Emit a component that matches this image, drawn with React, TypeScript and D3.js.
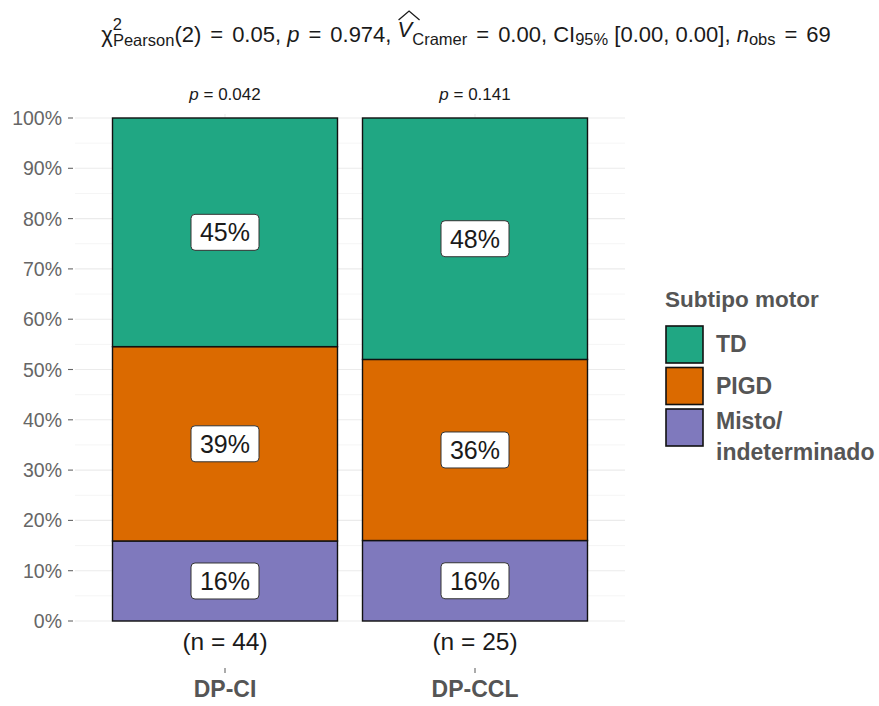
import React, { useLayoutEffect, useRef, useState } from "react";
import * as d3 from "d3";

// Contingency counts per group (Misto, PIGD, TD stacked from the bottom)
const groups = ["DP-CI", "DP-CCL"];
const groupN = [44, 25];
const groupP = ["0.042", "0.141"];
const subtypes = ["Misto/indeterminado", "PIGD", "TD"];
const countsMisto = [7, 4];
const countsPIGD = [17, 9];
const countsTD = [20, 12];
const subtypeColors = ["#7f79bd", "#db6a00", "#20a783"];
const legendOrder = ["TD", "PIGD", "Misto/indeterminado"];
const yTicks = [0, 0.1, 0.2, 0.3, 0.4, 0.5, 0.6, 0.7, 0.8, 0.9, 1];

const W = 879;
const H = 706;
const panel = { left: 75, right: 625, top: 118, bottom: 621 };
const FONT = "'Liberation Sans', Arial, Helvetica, sans-serif";
const MAIN = 22;
const SUB = 16.5;
const EQ = 9; // extra space around relations, as in plotmath

export default function App() {
  const x = d3
    .scalePoint<string>()
    .domain(groups)
    .range([panel.left, panel.right])
    .padding(0.6);
  const step = x.step();
  const barW = step * 0.9;
  const y = d3.scaleLinear().domain([0, 1]).range([panel.bottom, panel.top]);

  const table = groups.map((g, i) => {
    const row: Record<string, number | string> = { group: g };
    row[subtypes[0]] = countsMisto[i];
    row[subtypes[1]] = countsPIGD[i];
    row[subtypes[2]] = countsTD[i];
    return row;
  });
  const stacked = d3
    .stack<Record<string, number | string>>()
    .keys(subtypes)
    .offset(d3.stackOffsetExpand)(table as any);
  const color = d3.scaleOrdinal<string, string>().domain(subtypes).range(subtypeColors);

  const minor = d3.range(0.05, 1, 0.1);

  // place the hat over the V in the title
  const vRef = useRef<SVGTSpanElement>(null);
  const [hat, setHat] = useState<{ x: number; y: number; w: number } | null>(null);
  useLayoutEffect(() => {
    if (vRef.current) {
      const b = (vRef.current as any).getBBox();
      setHat({ x: b.x, y: b.y, w: b.width });
    }
  }, []);

  return (
    <svg width={W} height={H} style={{ display: "block", position: "absolute", left: 0, top: 0 }} fontFamily={FONT}>
      <rect width={W} height={H} fill="#fff" />
      {/* title */}
      <text x={466} y={42} textAnchor="middle" fontSize={MAIN} fill="#1a1a1a">
        <tspan>χ</tspan>
        <tspan fontSize={SUB} dy={-12}>2</tspan>
        <tspan fontSize={SUB} dy={16} dx={-9}>Pearson</tspan>
        <tspan dy={-4}>(2)</tspan>
        <tspan dx={EQ}>=</tspan>
        <tspan dx={EQ}>0.05, </tspan>
        <tspan fontStyle="italic">p</tspan>
        <tspan dx={EQ}>=</tspan>
        <tspan dx={EQ}>0.974, </tspan>
        <tspan ref={vRef} fontStyle="italic" dy={-5}>V</tspan>
        <tspan fontSize={SUB} dy={8}>Cramer</tspan>
        <tspan dy={-3} dx={EQ}>=</tspan>
        <tspan dx={EQ}>0.00, CI</tspan>
        <tspan fontSize={SUB} dy={3}>95%</tspan>
        <tspan dy={-3}> [0.00, 0.00], </tspan>
        <tspan fontStyle="italic">n</tspan>
        <tspan fontSize={SUB} dy={3}>obs</tspan>
        <tspan dy={-3} dx={EQ}>=</tspan>
        <tspan dx={EQ}>69</tspan>
      </text>
      {hat && (
        <path
          d={`M${hat.x + 1},${hat.y + 3} L${hat.x + hat.w / 2 + 3},${hat.y - 6} L${hat.x + hat.w + 5},${hat.y + 3}`}
          fill="none"
          stroke="#1a1a1a"
          strokeWidth={1.3}
        />
      )}

      {/* grid */}
      {minor.map((t) => (
        <line key={"m" + t} x1={panel.left} x2={panel.right} y1={y(t)} y2={y(t)} stroke="#f3f3f3" strokeWidth={0.8} />
      ))}
      {yTicks.map((t) => (
        <line key={"g" + t} x1={panel.left} x2={panel.right} y1={y(t)} y2={y(t)} stroke="#ebebeb" strokeWidth={1.1} />
      ))}
      {groups.map((g) => (
        <line key={"v" + g} x1={x(g)!} x2={x(g)!} y1={panel.top - 4} y2={panel.bottom} stroke="#ebebeb" strokeWidth={1.1} />
      ))}

      {/* y axis */}
      {yTicks.map((t) => (
        <g key={"yt" + t}>
          <line x1={68} x2={73} y1={y(t)} y2={y(t)} stroke="#666" strokeWidth={1.1} />
          <text x={62} y={y(t)} dy="0.36em" textAnchor="end" fontSize={19.5} fill="#666">
            {d3.format(".0%")(t)}
          </text>
        </g>
      ))}

      {/* bars */}
      {stacked.map((layer) =>
        layer.map((d, i) => (
          <rect
            key={layer.key + i}
            x={x(groups[i])! - barW / 2}
            y={y(d[1])}
            width={barW}
            height={y(d[0]) - y(d[1])}
            fill={color(layer.key)}
            stroke="#111"
            strokeWidth={1.4}
          />
        ))
      )}

      {/* percentage labels */}
      {stacked.map((layer) =>
        layer.map((d, i) => {
          const cx = x(groups[i])!;
          const cy = y((d[0] + d[1]) / 2);
          const label = d3.format(".0%")(d[1] - d[0]);
          return (
            <g key={"l" + layer.key + i}>
              <rect x={cx - 34} y={cy - 18} width={68} height={36} rx={4} fill="#fff" stroke="#333" strokeWidth={1} />
              <text x={cx} y={cy} dy="0.36em" textAnchor="middle" fontSize={25} fill="#1a1a1a">
                {label}
              </text>
            </g>
          );
        })
      )}

      {/* p-values above bars */}
      {groups.map((g, i) => (
        <text key={"p" + g} x={x(g)!} y={100} textAnchor="middle" fontSize={17} fill="#1a1a1a">
          <tspan fontStyle="italic">p</tspan>
          <tspan> = {groupP[i]}</tspan>
        </text>
      ))}

      {/* x axis */}
      {groups.map((g, i) => (
        <g key={"x" + g}>
          <text x={x(g)!} y={650} textAnchor="middle" fontSize={24.5} fill="#1a1a1a">
            (n = {groupN[i]})
          </text>
          <line x1={x(g)!} x2={x(g)!} y1={668} y2={673} stroke="#666" strokeWidth={1.1} />
          <text x={x(g)!} y={697} textAnchor="middle" fontSize={23} fontWeight="bold" fill="#555">
            {g}
          </text>
        </g>
      ))}

      {/* legend */}
      <text x={665} y={307} fontSize={22.5} fontWeight="bold" fill="#555">
        Subtipo motor
      </text>
      {legendOrder.map((k, i) => {
        const top = 326 + i * 41.5;
        return (
          <g key={"lg" + k}>
            <rect x={666} y={top} width={37} height={37} fill={color(k)} stroke="#111" strokeWidth={1.6} />
            {k === "Misto/indeterminado" ? (
              <text fontSize={23} fontWeight="bold" fill="#555">
                <tspan x={716} y={top + 20}>Misto/</tspan>
                <tspan x={716} y={top + 51}>indeterminado</tspan>
              </text>
            ) : (
              <text x={716} y={top + 18} dy="0.36em" fontSize={23} fontWeight="bold" fill="#555">
                {k}
              </text>
            )}
          </g>
        );
      })}
    </svg>
  );
}
